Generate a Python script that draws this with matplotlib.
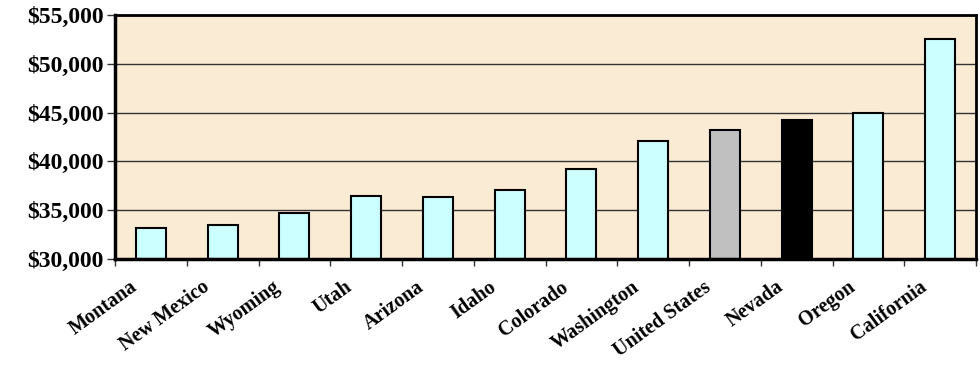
import matplotlib
matplotlib.use("Agg")
from matplotlib import pyplot as plt
from matplotlib.ticker import FuncFormatter, FixedLocator
import numpy as np

states = ["Montana", "New Mexico", "Wyoming", "Utah", "Arizona", "Idaho",
          "Colorado", "Washington", "United States", "Nevada", "Oregon", "California"]
income = [33200, 33500, 34700, 36450, 36400, 37050,
          39200, 42060, 43200, 44240, 45000, 52500]
bar_colors = ["#CCFFFF"] * 8 + ["#C0C0C0", "#000000", "#CCFFFF", "#CCFFFF"]

plt.rcParams["font.family"] = ["Liberation Serif", "DejaVu Serif"]
plt.rcParams["font.weight"] = "bold"

fig = plt.figure(figsize=(9.8, 3.66), dpi=100)
ax = fig.add_axes([115 / 980, 1 - 259 / 366, 861 / 980, 244 / 366])
ax.set_facecolor("#FAEBD4")

x = np.arange(len(states))
ax.bar(x, [v - 30000 for v in income], bottom=30000, width=0.42,
       color=bar_colors, edgecolor="black", linewidth=1.5, zorder=3)

ax.set_xlim(-0.5, len(states) - 0.5)
ax.set_ylim(30000, 55000)
ax.set_yticks(range(30000, 55001, 5000))
ax.yaxis.set_major_formatter(FuncFormatter(lambda v, p: "${:,.0f}".format(v)))
ax.grid(axis="y", color="#333333", linewidth=1.0, zorder=1)

# ticks sit between categories; labels hang a bit left of the bar centres
ax.xaxis.set_major_locator(FixedLocator(np.arange(-0.5, len(states), 1.0)))
ax.xaxis.set_major_formatter(FuncFormatter(lambda v, p: ""))
ax.set_xticks(x - 0.3, minor=True)
ax.set_xticklabels(states, minor=True, rotation=36, ha="right",
                   rotation_mode="anchor", fontsize=14.5, fontweight="bold")
ax.tick_params(axis="x", which="minor", length=0, pad=13)
ax.tick_params(axis="x", which="major", length=5, width=1, color="#333333")
ax.tick_params(axis="y", length=6, width=1, color="#333333", labelsize=17, pad=2)
for lbl in ax.get_yticklabels():
    lbl.set_fontweight("bold")

for side in ["left", "bottom"]:
    ax.spines[side].set_linewidth(2.5)
for side in ["top", "right"]:
    ax.spines[side].set_linewidth(2.0)
for s in ax.spines.values():
    s.set_zorder(4)

fig.savefig("out.png", dpi=100)
